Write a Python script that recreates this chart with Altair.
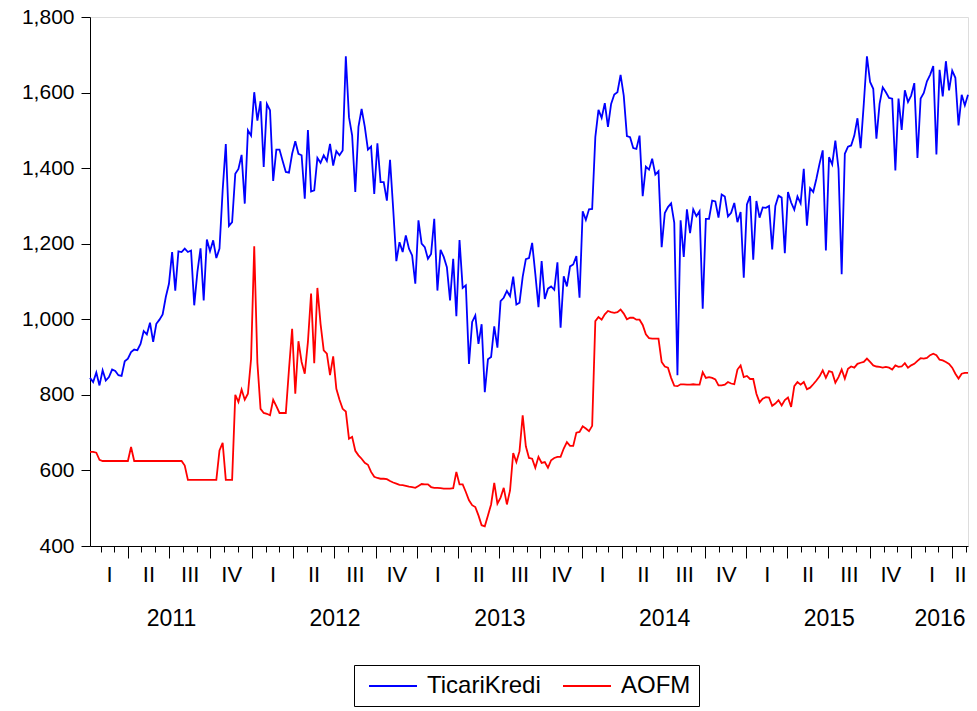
import altair as alt
import pandas as pd

start_date = "2011-01-07"

ticari_kredi = [
    845, 834, 859, 825, 865, 838, 847, 867, 863, 852,
    850, 889, 896, 913, 920, 918, 935, 969, 960, 991,
    940, 988, 999, 1013, 1059, 1094, 1178, 1076, 1180, 1178,
    1187, 1178, 1182, 1037, 1125, 1188, 1050, 1211, 1180, 1209,
    1162, 1187, 1341, 1464, 1247, 1257, 1385, 1398, 1435, 1306,
    1500, 1486, 1601, 1526, 1577, 1403, 1570, 1553, 1366, 1449,
    1449, 1419, 1390, 1388, 1438, 1471, 1438, 1434, 1319, 1501,
    1338, 1341, 1427, 1414, 1434, 1419, 1464, 1407, 1445, 1434,
    1447, 1696, 1535, 1487, 1337, 1509, 1557, 1510, 1449, 1457,
    1332, 1466, 1363, 1363, 1314, 1422, 1292, 1154, 1204, 1178,
    1222, 1187, 1169, 1094, 1262, 1200, 1191, 1160, 1173, 1266,
    1076, 1184, 1165, 1138, 1050, 1160, 1008, 1210, 1083, 1090,
    882, 993, 1010, 935, 987, 807, 894, 900, 981, 925,
    1048, 1057, 1075, 1061, 1113, 1039, 1044, 1112, 1159, 1162,
    1202, 1120, 1032, 1154, 1054, 1081, 1087, 1078, 1151, 978,
    1114, 1087, 1140, 1145, 1167, 1057, 1286, 1263, 1291, 1292,
    1482, 1554, 1533, 1572, 1509, 1570, 1595, 1601, 1647, 1592,
    1485, 1482, 1453, 1451, 1486, 1326, 1404, 1396, 1425, 1383,
    1392, 1191, 1281, 1297, 1307, 1255, 852, 1262, 1165, 1291,
    1228, 1291, 1273, 1286, 1028, 1266, 1266, 1314, 1312, 1269,
    1330, 1325, 1272, 1282, 1308, 1257, 1284, 1110, 1304, 1326,
    1158, 1313, 1269, 1296, 1295, 1300, 1185, 1300, 1327, 1322,
    1175, 1337, 1309, 1290, 1325, 1307, 1398, 1248, 1347, 1337,
    1372, 1412, 1447, 1182, 1429, 1410, 1473, 1398, 1119, 1438,
    1457, 1460, 1486, 1532, 1453, 1570, 1696, 1628, 1610, 1478,
    1570, 1614, 1601, 1586, 1584, 1394, 1584, 1501, 1606, 1575,
    1592, 1625, 1427, 1584, 1599, 1630, 1647, 1670, 1436, 1660,
    1590, 1683, 1606, 1658, 1639, 1513, 1594, 1566, 1594,
]

aofm = [
    649, 649, 647, 628, 625, 625, 625, 625, 625, 625,
    625, 625, 625, 662, 625, 625, 625, 625, 625, 625,
    625, 625, 625, 625, 625, 625, 625, 625, 625, 625,
    613, 575, 575, 575, 575, 575, 575, 575, 575, 575,
    575, 653, 673, 575, 575, 575, 800, 781, 814, 787,
    803, 895, 1193, 885, 763, 752, 750, 746, 787, 770,
    752, 752, 752, 867, 975, 803, 942, 887, 856, 940,
    1068, 884, 1083, 988, 918, 909, 852, 902, 816, 787,
    763, 756, 684, 689, 652, 640, 631, 620, 615, 596,
    583, 580, 578, 578, 577, 572, 568, 565, 562, 561,
    559, 557, 556, 554, 559, 564, 563, 563, 556, 554,
    554, 553, 552, 552, 552, 553, 596, 563, 563, 543,
    521, 508, 503, 481, 455, 452, 481, 510, 567, 512,
    528, 554, 510, 547, 646, 622, 651, 746, 664, 633,
    631, 607, 636, 620, 622, 607, 627, 633, 636, 636,
    658, 675, 665, 665, 700, 702, 717, 711, 704, 718,
    995, 1006, 999, 1013, 1022, 1019, 1017, 1019, 1026, 1015,
    1000, 1004, 1004, 999, 999, 985, 960, 950, 949, 949,
    949, 887, 875, 872, 845, 824, 823, 828, 828, 827,
    827, 828, 827, 827, 860, 845, 847, 845, 841, 825,
    825, 827, 834, 830, 828, 867, 878, 847, 850, 842,
    842, 803, 780, 790, 794, 793, 771, 777, 786, 772,
    786, 793, 768, 823, 834, 827, 834, 815, 819, 828,
    838, 849, 865, 845, 863, 860, 832, 847, 867, 843,
    869, 875, 872, 882, 885, 887, 896, 887, 878, 875,
    874, 872, 874, 872, 867, 878, 874, 875, 884, 872,
    878, 882, 890, 897, 896, 898, 905, 909, 905, 893,
    891, 887, 882, 872, 856, 843, 856, 858, 858,
]

series_names = ["TicariKredi", "AOFM"]
series_colors = ["#0000ff", "#ff0000"]
y_ticks = [400, 600, 800, 1000, 1200, 1400, 1600, 1800]

# ---- table ----
n = len(ticari_kredi)
dates = pd.date_range(start_date, periods=n, freq="7D")
date_str = dates.strftime("%Y-%m-%d").tolist()
df = pd.DataFrame({
    "date": date_str * 2,
    "value": ticari_kredi + aofm,
    "series": [series_names[0]] * n + [series_names[1]] * n,
})

first, last = dates[0], dates[-1]


def ms(ts):
    return int(pd.Timestamp(ts).tz_localize("UTC").timestamp() * 1000)


# tick positions (months / quarters) and label positions (centre of the visible period)
month_ticks = [ms(d) for d in pd.date_range(first, last, freq="MS")]
quarter_ticks = [ms(d) for d in pd.date_range(first, last, freq="QS")]
q_starts = pd.date_range(first.to_period("Q").start_time, last, freq="QS")
quarter_mid = []
for qs in q_starts:
    a = max(qs, first)
    b = min(qs + pd.offsets.QuarterBegin(startingMonth=1), last)
    quarter_mid.append(ms(a + (b - a) / 2))
y_starts = pd.date_range(first.to_period("Y").start_time, last, freq="YS")
year_mid = []
for ys in y_starts:
    a = max(ys, first)
    b = min(ys + pd.offsets.YearBegin(), last)
    year_mid.append(ms(a + (b - a) / 2))

FONT = "Liberation Sans"
xscale = alt.Scale(type="utc", domain=[ms(first), ms(last)], nice=False)

base_axis = dict(title=None, grid=False, orient="bottom", domainColor="black",
                 tickColor="black", labelColor="black", labelFont=FONT)

lines = alt.Chart(df).mark_line(strokeWidth=1.8).encode(
    x=alt.X("date:T", scale=xscale,
            axis=alt.Axis(values=month_ticks, tickSize=6, labels=False, **base_axis)),
    y=alt.Y("value:Q", scale=alt.Scale(domain=[400, 1800], nice=False, zero=False),
            axis=alt.Axis(values=y_ticks, format=",d", title=None, grid=False, tickSize=9,
                          labelPadding=7, labelFont=FONT, labelFontSize=21, labelColor="black",
                          domainColor="black", tickColor="black")),
    color=alt.Color("series:N",
                    scale=alt.Scale(domain=series_names, range=series_colors),
                    legend=alt.Legend(title=None, orient="none", direction="horizontal",
                                      legendX=264, legendY=648,
                                      symbolType="M-0.5,0H3.5", symbolSize=576,
                                      symbolStrokeWidth=1.8,
                                      labelFont=FONT, labelFontSize=24, labelColor="black",
                                      labelOffset=39, columnPadding=15,
                                      strokeColor="black", fillColor="white", padding=8)),
    order=alt.Order("series:N", sort="descending"),
)

rule_base = alt.Chart(df.iloc[[0, n - 1]]).mark_rule(strokeOpacity=0)

quarter_tick_layer = rule_base.encode(
    x=alt.X("date:T", scale=xscale,
            axis=alt.Axis(values=quarter_ticks, tickSize=12, labels=False, domain=False,
                          labelFontSize=20, **base_axis)))

quarter_label_layer = rule_base.encode(
    x=alt.X("date:T", scale=xscale,
            axis=alt.Axis(values=quarter_mid, ticks=False, tickSize=0, domain=False, labelPadding=18,
                          labelFontSize=22,
                          labelExpr="['I','I','I','II','II','II','III','III','III','IV','IV','IV'][utcmonth(datum.value)]",
                          labelOverlap=False, **base_axis)))

year_label_layer = rule_base.encode(
    x=alt.X("date:T", scale=xscale,
            axis=alt.Axis(values=year_mid, ticks=False, tickSize=0, domain=False, labelPadding=61,
                          labelFontSize=23,
                          labelExpr="'' + utcyear(datum.value)", labelOverlap=False, **base_axis)))

chart = alt.layer(lines, quarter_tick_layer, quarter_label_layer, year_label_layer).resolve_axis(
    x="independent"
).properties(
    width=878, height=529,
    padding={"left": 82, "top": 9, "right": 1, "bottom": 163},
    autosize=alt.AutoSizeParams(type="none"),
).configure_view(stroke="black", strokeWidth=1.2).configure(background="white")

chart.save("out.html", embed_options={"renderer": "svg", "actions": False})
